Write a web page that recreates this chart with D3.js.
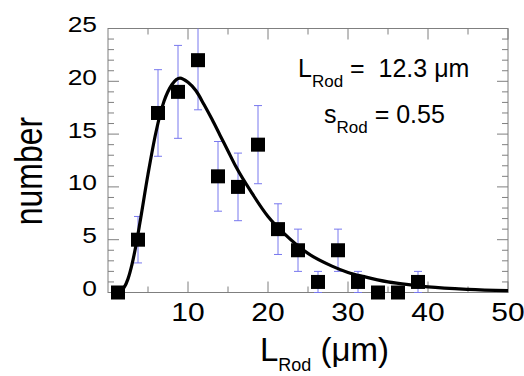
<!DOCTYPE html>
<html>
<head>
<meta charset="utf-8">
<script src="https://cdn.jsdelivr.net/npm/d3@7"></script>
<style>
body { margin: 0; background: #fff; }
text { font-family: "Liberation Sans", Arial, sans-serif; fill: #000; }
</style>
</head>
<body>
<div id="chart"></div>
<script>
// bin centres (um), counts and error bars
var lengths = [1.25, 3.75, 6.25, 8.75, 11.25, 13.75, 16.25, 18.75, 21.25, 23.75, 26.25, 28.75, 31.25, 33.75, 36.25, 38.75];
var counts  = [0, 5, 17, 19, 22, 11, 10, 14, 6, 4, 1, 4, 1, 0, 0, 1];
var errors  = [0, 2.2, 4.1, 4.4, 4.7, 3.3, 3.2, 3.7, 2.4, 2, 1, 2, 1, 0, 0, 1];

// fitted log-normal curve
var fitX = [1.25, 2, 2.5, 3, 3.5, 4, 5, 6, 7, 8, 9, 10, 11, 12, 13, 14, 15, 16, 18, 20, 22, 25, 28, 30, 32, 35, 38, 40, 45, 50];
var fitY = [0.03, 0.46, 1.29, 2.66, 4.49, 6.65, 11.2, 15.2, 18.1, 19.7, 20.3, 19.9, 19.1, 17.8, 16.4, 14.9, 13.4, 11.9, 9.4, 7.2, 5.6, 3.7, 2.5, 1.9, 1.5, 1.0, 0.7, 0.54, 0.3, 0.17];

var xTicks = [10, 20, 30, 40, 50];
var yTicks = [0, 5, 10, 15, 20, 25];

var width = 524, height = 376;
var plotL = 108, plotR = 508, plotT = 28.5, plotB = 292.5;
var stretch = 1.2;

var svg = d3.select("#chart").append("svg")
	.attr("width", width)
	.attr("height", height);

var x = d3.scaleLinear().domain([0, 50]).range([plotL, plotR]);
var y = d3.scaleLinear().domain([0, 25]).range([plotB, plotT]);

var gray = "#7f7f7f";

// frame
svg.append("rect")
	.attr("x", plotL).attr("y", plotT)
	.attr("width", plotR - plotL).attr("height", plotB - plotT)
	.attr("fill", "none").attr("stroke", gray).attr("stroke-width", 1);

// ticks, all pointing inwards, on the four sides
var xMinor = d3.range(5, 50, 10), yMinor = d3.range(0, 26, 1).filter(function(v){ return v % 5 != 0; });

function ticks(g, scale, vals, len, side) {
	g.selectAll("line.none")
		.data(vals).enter().append("line")
		.attr("stroke", gray).attr("stroke-width", 1)
		.each(function(v) {
			var l = d3.select(this);
			if (side == "bottom") l.attr("x1", scale(v)).attr("x2", scale(v)).attr("y1", plotB).attr("y2", plotB - len);
			if (side == "top") l.attr("x1", scale(v)).attr("x2", scale(v)).attr("y1", plotT).attr("y2", plotT + len);
			if (side == "left") l.attr("y1", scale(v)).attr("y2", scale(v)).attr("x1", plotL).attr("x2", plotL + len);
			if (side == "right") l.attr("y1", scale(v)).attr("y2", scale(v)).attr("x1", plotR).attr("x2", plotR - len);
		});
}
var tg = svg.append("g").attr("class", "ticks");
ticks(tg, x, xTicks, 11, "bottom");
ticks(tg, x, xMinor, 6, "bottom");
ticks(tg, x, xTicks, 11, "top");
ticks(tg, x, xMinor, 6, "top");
ticks(tg, y, yTicks, 11, "left");
ticks(tg, y, yMinor, 6, "left");
ticks(tg, y, yTicks, 11, "right");
ticks(tg, y, yMinor, 6, "right");

// tick labels
svg.append("g").selectAll("text")
	.data(xTicks).enter().append("text")
	.attr("text-anchor", "middle")
	.attr("font-size", 25)
	.attr("transform", function(d){ return "translate(" + x(d) + "," + (plotB + 28) + ") scale(" + stretch + ",1)"; })
	.text(function(d){ return d; });

svg.append("g").selectAll("text")
	.data(yTicks).enter().append("text")
	.attr("text-anchor", "end")
	.attr("font-size", 22)
	.attr("transform", function(d){ return "translate(" + (plotL - 11) + "," + (y(d) + 3.5) + ") scale(" + stretch + ",1)"; })
	.text(function(d){ return d; });

// axis titles
svg.append("text")
	.attr("text-anchor", "middle")
	.attr("font-size", 32)
	.attr("transform", "translate(42,171) rotate(-90) scale(1," + stretch + ")")
	.text("number");

var xt = svg.append("text")
	.attr("x", 260).attr("y", 361)
	.attr("font-size", 33);
xt.append("tspan").text("L");
xt.append("tspan").attr("font-size", 18).attr("dy", 10).text("Rod");
xt.append("tspan").attr("dy", -10).text(" (\u03bcm)");

// error bars
var bars = svg.append("g").attr("class", "errors")
	.attr("stroke", "#7878ee").attr("stroke-width", 1);
var withErr = d3.range(lengths.length).filter(function(i){ return errors[i] > 0; });
var capW = 4;
withErr.forEach(function(i) {
	var hi = Math.min(counts[i] + errors[i], 25), lo = counts[i] - errors[i];
	bars.append("line").attr("x1", x(lengths[i])).attr("x2", x(lengths[i])).attr("y1", y(hi)).attr("y2", y(lo));
	if (counts[i] + errors[i] <= 25)
		bars.append("line").attr("x1", x(lengths[i]) - capW).attr("x2", x(lengths[i]) + capW).attr("y1", y(hi)).attr("y2", y(hi));
	bars.append("line").attr("x1", x(lengths[i]) - capW).attr("x2", x(lengths[i]) + capW).attr("y1", y(lo)).attr("y2", y(lo));
});

// fitted curve
var fit = fitX.map(function(v, i){ return [v, fitY[i]]; });
var line = d3.line()
	.x(function(d){ return x(d[0]); })
	.y(function(d){ return y(d[1]); })
	.curve(d3.curveMonotoneX);
svg.append("path")
	.datum(fit)
	.attr("d", line)
	.attr("fill", "none")
	.attr("stroke", "#000")
	.attr("stroke-width", 3.2)
	.attr("stroke-linejoin", "round");

// data squares
var sq = 14;
svg.append("g").selectAll("rect")
	.data(counts).enter().append("rect")
	.attr("x", function(d, i){ return x(lengths[i]) - sq / 2; })
	.attr("y", function(d){ return y(d) - sq / 2; })
	.attr("width", sq).attr("height", sq)
	.attr("fill", "#000");

// fit parameters
var a1 = svg.append("text").attr("x", 298).attr("y", 77).attr("font-size", 25);
a1.append("tspan").text("L");
a1.append("tspan").attr("font-size", 17).attr("dy", 10).text("Rod");
a1.append("tspan").attr("dy", -10).text(" =\u00a0\u00a012.3 \u03bcm");

var a2 = svg.append("text").attr("x", 324).attr("y", 123).attr("font-size", 25);
a2.append("tspan").text("s");
a2.append("tspan").attr("font-size", 17).attr("dy", 10).text("Rod");
a2.append("tspan").attr("dy", -10).text(" = 0.55");
</script>
</body>
</html>
